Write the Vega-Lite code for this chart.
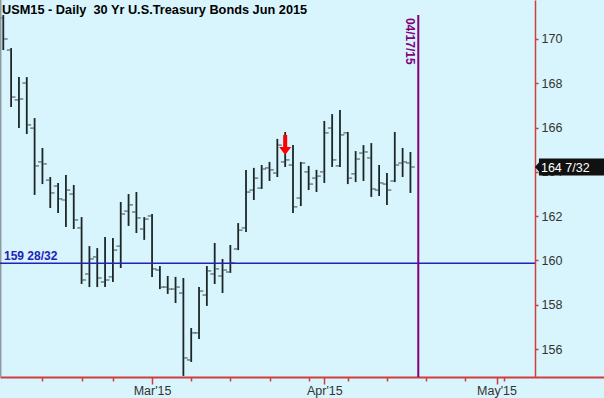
{
  "$schema": "https://vega.github.io/schema/vega-lite/v6.json",
  "width": 604,
  "height": 377,
  "autosize": "none",
  "padding": {"left": 0, "top": 0, "right": 0, "bottom": 21},
  "background": "#d8f4fc",
  "config": {"view": {"stroke": null}},
  "title": {"text": "USM15 - Daily \u00a030 Yr U.S.Treasury Bonds Jun 2015", "anchor": "start", "frame": "group", "orient": "top", "offset": -27.5, "baseline": "alphabetic", "dx": 2, "font": "Liberation Sans", "fontSize": 12.75, "fontWeight": "bold", "color": "#000000"},
  "datasets": {
    "ohlc": [
      {"i": 0, "o": 170.95, "h": 171.08, "l": 169.50, "c": 170.00},
      {"i": 1, "o": 169.50, "h": 169.59, "l": 166.93, "c": 167.38},
      {"i": 2, "o": 167.25, "h": 168.28, "l": 165.98, "c": 167.29},
      {"i": 3, "o": 168.01, "h": 168.28, "l": 165.71, "c": 166.12},
      {"i": 4, "o": 165.98, "h": 166.43, "l": 162.96, "c": 164.27},
      {"i": 5, "o": 164.45, "h": 165.08, "l": 163.45, "c": 164.36},
      {"i": 6, "o": 163.63, "h": 163.77, "l": 162.37, "c": 163.05},
      {"i": 7, "o": 163.36, "h": 163.50, "l": 162.14, "c": 162.78},
      {"i": 8, "o": 162.73, "h": 163.86, "l": 161.51, "c": 163.18},
      {"i": 9, "o": 163.00, "h": 163.41, "l": 161.42, "c": 161.83},
      {"i": 10, "o": 161.47, "h": 161.96, "l": 158.94, "c": 159.12},
      {"i": 11, "o": 159.39, "h": 160.65, "l": 158.80, "c": 160.07},
      {"i": 12, "o": 160.16, "h": 160.56, "l": 158.80, "c": 159.21},
      {"i": 13, "o": 159.03, "h": 161.06, "l": 158.80, "c": 159.12},
      {"i": 14, "o": 159.26, "h": 161.02, "l": 159.03, "c": 160.47},
      {"i": 15, "o": 160.65, "h": 162.64, "l": 159.66, "c": 162.10},
      {"i": 16, "o": 162.23, "h": 163.00, "l": 161.56, "c": 162.51},
      {"i": 17, "o": 162.19, "h": 163.09, "l": 161.24, "c": 161.92},
      {"i": 18, "o": 161.42, "h": 161.96, "l": 160.93, "c": 161.87},
      {"i": 19, "o": 162.01, "h": 162.10, "l": 159.26, "c": 159.62},
      {"i": 20, "o": 159.57, "h": 159.75, "l": 158.71, "c": 158.80},
      {"i": 21, "o": 158.80, "h": 159.30, "l": 158.49, "c": 158.71},
      {"i": 22, "o": 158.71, "h": 159.26, "l": 158.08, "c": 158.80},
      {"i": 23, "o": 158.53, "h": 159.21, "l": 154.79, "c": 155.60},
      {"i": 24, "o": 155.51, "h": 156.95, "l": 155.42, "c": 156.73},
      {"i": 25, "o": 156.73, "h": 158.80, "l": 156.46, "c": 158.62},
      {"i": 26, "o": 158.44, "h": 159.75, "l": 157.95, "c": 159.53},
      {"i": 27, "o": 159.39, "h": 160.79, "l": 158.94, "c": 159.62},
      {"i": 28, "o": 159.30, "h": 160.07, "l": 158.53, "c": 159.57},
      {"i": 29, "o": 159.48, "h": 160.70, "l": 159.44, "c": 159.89},
      {"i": 30, "o": 160.52, "h": 161.69, "l": 160.47, "c": 161.37},
      {"i": 31, "o": 161.47, "h": 164.09, "l": 161.29, "c": 163.09},
      {"i": 32, "o": 163.18, "h": 164.18, "l": 162.73, "c": 163.72},
      {"i": 33, "o": 163.27, "h": 164.31, "l": 163.23, "c": 164.13},
      {"i": 34, "o": 164.18, "h": 164.45, "l": 163.59, "c": 164.09},
      {"i": 35, "o": 163.95, "h": 165.49, "l": 163.77, "c": 165.21},
      {"i": 36, "o": 164.45, "h": 165.80, "l": 164.22, "c": 164.54},
      {"i": 37, "o": 164.31, "h": 165.21, "l": 162.14, "c": 162.42},
      {"i": 38, "o": 162.82, "h": 164.45, "l": 162.46, "c": 164.40},
      {"i": 39, "o": 164.00, "h": 164.27, "l": 163.18, "c": 163.45},
      {"i": 40, "o": 163.72, "h": 164.09, "l": 163.09, "c": 163.81},
      {"i": 41, "o": 164.00, "h": 166.30, "l": 163.50, "c": 165.76},
      {"i": 42, "o": 165.98, "h": 166.61, "l": 164.22, "c": 164.54},
      {"i": 43, "o": 164.27, "h": 166.79, "l": 164.22, "c": 165.67},
      {"i": 44, "o": 165.76, "h": 165.80, "l": 163.45, "c": 163.72},
      {"i": 45, "o": 163.91, "h": 164.94, "l": 163.54, "c": 164.58},
      {"i": 46, "o": 164.85, "h": 165.21, "l": 163.59, "c": 164.90},
      {"i": 47, "o": 164.63, "h": 165.30, "l": 162.87, "c": 163.23},
      {"i": 48, "o": 163.18, "h": 164.31, "l": 162.91, "c": 163.50},
      {"i": 49, "o": 163.45, "h": 163.95, "l": 162.51, "c": 163.18},
      {"i": 50, "o": 163.59, "h": 165.80, "l": 163.54, "c": 164.31},
      {"i": 51, "o": 164.40, "h": 165.08, "l": 163.77, "c": 164.45},
      {"i": 52, "o": 164.40, "h": 164.90, "l": 163.05, "c": 164.22}
    ]
  },
  "layer": [
    {
      "data": {"name": "ohlc"},
      "mark": {"type": "rule", "color": "#1c2626", "strokeWidth": 1.8},
      "encoding": {
        "x": {"field": "i", "type": "quantitative", "scale": {"domain": [-0.42, 76.72], "nice": false, "zero": false},
          "axis": {"orient": "bottom", "title": null, "grid": false, "values": [5, 10, 14, 19, 24, 29, 34, 39, 41, 44, 49, 54, 59, 63, 64],
            "labelExpr": "datum.value == 19 ? \"Mar'15\" : datum.value == 41 ? \"Apr'15\" : datum.value == 63 ? \"May'15\" : ''",
            "tickSize": {"condition": {"test": "datum.value == 19 || datum.value == 41 || datum.value == 63", "value": 7}, "value": 4},
            "tickColor": "#d23c3c", "tickWidth": 1.5, "domainColor": "#d23c3c", "domainWidth": 2,
            "labelFont": "Liberation Sans", "labelFontSize": 12.5, "labelColor": "#333333", "labelPadding": 0,
            "labelOverlap": false, "labelFlush": false}},
        "y": {"field": "l", "type": "quantitative", "scale": {"domain": [154.74, 171.76], "nice": false, "zero": false},
          "axis": {"orient": "right", "offset": -69, "title": null, "grid": false, "values": [156, 158, 160, 162, 164, 166, 168, 170],
            "tickSize": 3, "tickColor": "#d23c3c", "tickWidth": 1.5, "domainColor": "#d23c3c", "domainWidth": 1.5,
            "labelFont": "Liberation Sans", "labelFontSize": 12.5, "labelColor": "#333333", "labelPadding": 3}},
        "y2": {"field": "h"}
      }
    },
    {
      "data": {"name": "ohlc"},
      "mark": {"type": "tick", "orient": "horizontal", "size": 3.5, "thickness": 1.2, "xOffset": -2.6, "color": "#1c2626"},
      "encoding": {"x": {"field": "i", "type": "quantitative"}, "y": {"field": "o", "type": "quantitative"}}
    },
    {
      "data": {"name": "ohlc"},
      "mark": {"type": "tick", "orient": "horizontal", "size": 3.5, "thickness": 1.2, "xOffset": 2.6, "color": "#1c2626"},
      "encoding": {"x": {"field": "i", "type": "quantitative"}, "y": {"field": "c", "type": "quantitative"}}
    },
    {
      "data": {"values": [{"edge": -0.36}]},
      "mark": {"type": "rule", "color": "#8c9ca0", "strokeWidth": 2},
      "encoding": {"x": {"field": "edge", "type": "quantitative"}}
    },
    {
      "data": {"values": [{"price": 159.875, "label": "159 28/32"}]},
      "layer": [
        {"mark": {"type": "rule", "color": "#2222bb", "strokeWidth": 1.5},
         "encoding": {"y": {"field": "price", "type": "quantitative"}, "x": {"datum": -0.42}, "x2": {"datum": 67.9}}},
        {"mark": {"type": "text", "align": "left", "baseline": "alphabetic", "dy": -3, "font": "Liberation Sans", "fontSize": 12, "fontWeight": "bold", "color": "#2222bb"},
         "encoding": {"y": {"field": "price", "type": "quantitative"}, "x": {"datum": 0.09}, "text": {"field": "label"}}}
      ]
    },
    {
      "data": {"values": [{"i": 53, "label": "04/17/15"}]},
      "layer": [
        {"mark": {"type": "rule", "color": "#800080", "strokeWidth": 2},
         "encoding": {"x": {"field": "i", "type": "quantitative"}, "y": {"datum": 171.08}, "y2": {"datum": 154.74}}},
        {"mark": {"type": "text", "angle": 90, "align": "left", "baseline": "top", "dy": 3, "font": "Liberation Sans", "fontSize": 12, "fontWeight": "bold", "color": "#800080"},
         "encoding": {"x": {"field": "i", "type": "quantitative"}, "y": {"datum": 170.95}, "text": {"field": "label"}}}
      ]
    },
    {
      "data": {"values": [{"i": 36, "price": 165.21}]},
      "mark": {"type": "point", "shape": "M-0.2,-1 L0.2,-1 L0.2,0.2 L0.6,0.2 L0,1 L-0.6,0.2 L-0.2,0.2 Z", "size": 400, "filled": true, "color": "#ff0000", "opacity": 1, "strokeWidth": 0},
      "encoding": {"x": {"field": "i", "type": "quantitative"}, "y": {"field": "price", "type": "quantitative"}}
    },
    {
      "data": {"values": [{"price": 164.22, "label": "164 7/32"}]},
      "layer": [
        {"mark": {"type": "point", "shape": "M0,0 L0.4,-0.45 L0.4,-0.85 L7,-0.85 L7,0.85 L0.4,0.85 L0.4,0.45 Z", "size": 400, "filled": true, "color": "#111111", "opacity": 1, "strokeWidth": 0},
         "encoding": {"x": {"datum": 67.9}, "y": {"field": "price", "type": "quantitative"}}},
        {"mark": {"type": "text", "align": "left", "baseline": "middle", "dy": 1, "font": "Liberation Sans", "fontSize": 12.5, "color": "#ffffff"},
         "encoding": {"x": {"datum": 68.67}, "y": {"field": "price", "type": "quantitative"}, "text": {"field": "label"}}}
      ]
    }
  ]
}
